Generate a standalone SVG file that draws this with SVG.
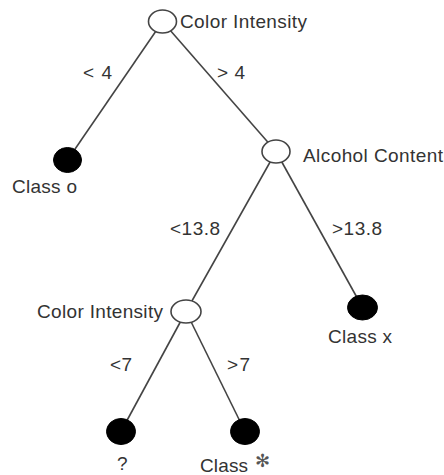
<svg xmlns="http://www.w3.org/2000/svg" width="444" height="475" viewBox="0 0 444 475">
<style>
text{font-family:"Liberation Sans",Arial,sans-serif;font-size:19px;fill:#333}
.e{stroke:#444;stroke-width:1.6;fill:none}
.open{fill:#fff;stroke:#444;stroke-width:1.6}
.leaf{fill:#000;stroke:#000;stroke-width:1}
.star{font-family:"DejaVu Sans",sans-serif;font-size:18px;fill:#555}
</style>
<rect width="444" height="475" fill="#fff"/>
<g id="connectors">
<line class="e" x1="162.5" y1="21.5" x2="67.5" y2="160"/>
<line class="e" x1="162.5" y1="21.5" x2="276" y2="151.5"/>
<line class="e" x1="276" y1="151.5" x2="186" y2="311.5"/>
<line class="e" x1="276" y1="151.5" x2="362.5" y2="307.5"/>
<line class="e" x1="186" y1="311.5" x2="121" y2="431.5"/>
<line class="e" x1="186" y1="311.5" x2="245" y2="431.5"/>
<text x="83" y="79" textLength="29" lengthAdjust="spacing">&lt; 4</text>
<text x="217" y="79" textLength="28" lengthAdjust="spacing">&gt; 4</text>
<text x="170" y="235" textLength="50" lengthAdjust="spacing">&lt;13.8</text>
<text x="332" y="235" textLength="50" lengthAdjust="spacing">&gt;13.8</text>
<text x="110" y="371" textLength="22" lengthAdjust="spacing">&lt;7</text>
<text x="227" y="371" textLength="23" lengthAdjust="spacing">&gt;7</text>
</g>
<g id="root">
<ellipse class="open" cx="162.5" cy="21.5" rx="14" ry="11.5"/>
<text x="180" y="28" textLength="127" lengthAdjust="spacing">Color Intensity</text>
</g>
<g id="class-o">
<ellipse class="leaf" cx="67.5" cy="160" rx="14" ry="12.5"/>
<text x="12" y="193" textLength="65" lengthAdjust="spacing">Class o</text>
</g>
<g id="alcohol">
<ellipse class="open" cx="276" cy="151.5" rx="14" ry="11.5"/>
<text x="303" y="162" textLength="140" lengthAdjust="spacing">Alcohol Content</text>
</g>
<g id="color2">
<ellipse class="open" cx="186" cy="311.5" rx="15" ry="11.5"/>
<text x="37" y="318" textLength="126" lengthAdjust="spacing">Color Intensity</text>
</g>
<g id="class-x">
<ellipse class="leaf" cx="362.5" cy="307.5" rx="15" ry="12.5"/>
<text x="328" y="343" textLength="64" lengthAdjust="spacing">Class x</text>
</g>
<g id="unknown">
<ellipse class="leaf" cx="121" cy="431.5" rx="14.5" ry="13"/>
<text x="117" y="470">?</text>
</g>
<g id="class-star">
<ellipse class="leaf" cx="245" cy="431.5" rx="14.5" ry="13"/>
<text x="200" y="472" textLength="48" lengthAdjust="spacing">Class</text>
<text class="star" x="255" y="467">✻</text>
</g>
</svg>
